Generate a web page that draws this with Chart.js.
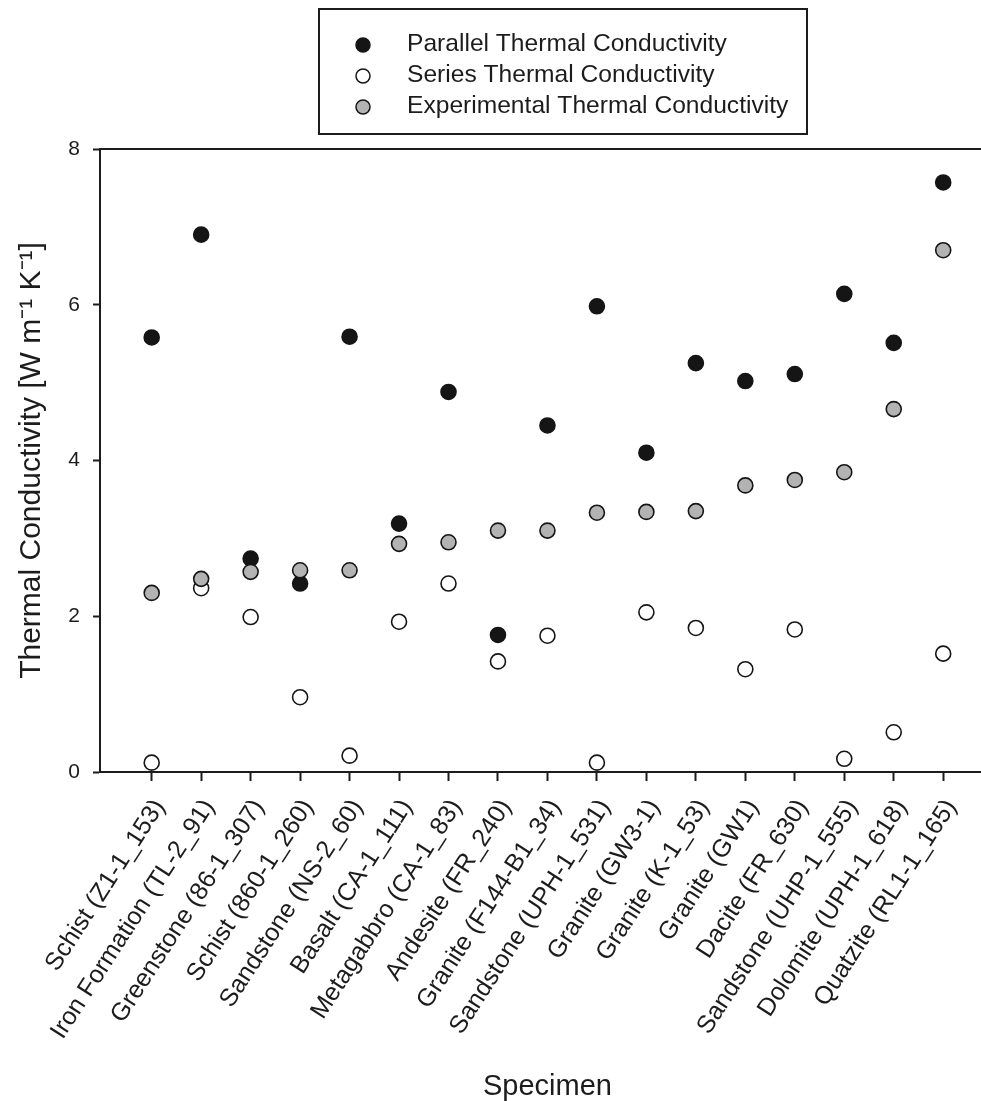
<!DOCTYPE html>
<html>
<head>
<meta charset="utf-8">
<script src="https://cdn.jsdelivr.net/npm/chart.js@4.4.1/dist/chart.umd.min.js"></script>
<style>
  html, body { margin: 0; padding: 0; background: #fff; overflow: hidden; }
  canvas { display: block; }
</style>
</head>
<body>
<canvas id="tcChart" width="1004" height="1101"></canvas>
<script>
const specimens = [
  "Schist (Z1-1_153)", "Iron Formation (TL-2_91)", "Greenstone (86-1_307)",
  "Schist (860-1_260)", "Sandstone (NS-2_60)", "Basalt (CA-1_111)",
  "Metagabbro (CA-1_83)", "Andesite (FR_240)", "Granite (F144-B1_34)",
  "Sandstone (UPH-1_531)", "Granite (GW3-1)", "Granite (K-1_53)",
  "Granite (GW1)", "Dacite (FR_630)", "Sandstone (UHP-1_555)",
  "Dolomite (UPH-1_618)", "Quatzite (RL1-1_165)"
];
const parallelTC = [5.58, 6.90, 2.74, 2.42, 5.59, 3.19, 4.88, 1.76, 4.45, 5.98, 4.10, 5.25, 5.02, 5.11, 6.14, 5.51, 7.57];
const seriesTC = [0.12, 2.36, 1.99, 0.96, 0.21, 1.93, 2.42, 1.42, 1.75, 0.12, 2.05, 1.85, 1.32, 1.83, 0.17, 0.51, 1.52];
const experimentalTC = [2.30, 2.48, 2.57, 2.59, 2.59, 2.93, 2.95, 3.10, 3.10, 3.33, 3.34, 3.35, 3.68, 3.75, 3.85, 4.66, 6.70];
const yTicks = [0, 2, 4, 6, 8];

const FONT = '"Liberation Sans", Arial, Helvetica, sans-serif';
const INK = "#1c1c1c";

function pts(values) {
  return values.map((v, i) => ({ x: i, y: v }));
}

// legend box + top frame line
const boxLegend = {
  id: "boxLegend",
  afterDraw(chart) {
    const ctx = chart.ctx;
    const area = chart.chartArea;
    ctx.save();
    ctx.strokeStyle = INK;
    ctx.lineWidth = 2;
    ctx.beginPath();
    ctx.moveTo(area.left, area.top);
    ctx.lineTo(area.right, area.top);
    ctx.stroke();

    ctx.strokeRect(319, 9, 488, 125);
    ctx.font = "24.6px " + FONT;
    ctx.textBaseline = "middle";
    ctx.textAlign = "left";
    chart.data.datasets.forEach((ds, row) => {
      const y = 44 + row * 31;
      ctx.beginPath();
      ctx.arc(363, y + 1, 7, 0, Math.PI * 2);
      ctx.fillStyle = ds.backgroundColor;
      ctx.fill();
      ctx.lineWidth = 1.5;
      ctx.strokeStyle = ds.borderColor;
      ctx.stroke();
      ctx.fillStyle = INK;
      ctx.fillText(ds.label, 407, y);
    });
    ctx.restore();
  }
};

const ctx = document.getElementById("tcChart");
new Chart(ctx, {
  type: "scatter",
  data: {
    datasets: [
      {
        label: "Parallel Thermal Conductivity",
        data: pts(parallelTC),
        backgroundColor: "#151515",
        borderColor: "#151515",
        order: 3
      },
      {
        label: "Series Thermal Conductivity",
        data: pts(seriesTC),
        backgroundColor: "#ffffff",
        borderColor: "#151515",
        order: 2
      },
      {
        label: "Experimental Thermal Conductivity",
        data: pts(experimentalTC),
        backgroundColor: "#b3b3b3",
        borderColor: "#151515",
        order: 1
      }
    ]
  },
  options: {
    responsive: false,
    animation: false,
    devicePixelRatio: 1,
    layout: { padding: { top: 149, right: 0, bottom: 0, left: 0 } },
    elements: {
      point: { radius: 7.5, hoverRadius: 7.5, borderWidth: 1.6 }
    },
    plugins: {
      legend: { display: false },
      tooltip: { enabled: false }
    },
    scales: {
      x: {
        type: "linear",
        min: -1.045,
        max: 17.045,
        afterBuildTicks: (scale) => {
          scale.ticks = specimens.map((s, i) => ({ value: i }));
        },
        afterFit: (scale) => {
          scale.height = 329;
        },
        grid: {
          drawOnChartArea: false,
          drawTicks: true,
          tickLength: 9,
          tickWidth: 2,
          tickColor: INK
        },
        border: { color: INK, width: 2 },
        ticks: {
          autoSkip: false,
          minRotation: 57,
          maxRotation: 57,
          padding: 13,
          labelOffset: 8,
          color: INK,
          font: { family: FONT, size: 25 },
          callback: (v) => specimens[v] ?? ""
        },
        title: {
          display: true,
          text: "Specimen",
          color: INK,
          font: { family: FONT, size: 29 },
          padding: { top: 0, bottom: -3 }
        }
      },
      y: {
        min: 0,
        max: 8,
        afterBuildTicks: (scale) => {
          scale.ticks = yTicks.map((v) => ({ value: v }));
        },
        afterFit: (scale) => {
          scale.width = 100;
        },
        grid: {
          drawOnChartArea: false,
          drawTicks: true,
          tickLength: 7,
          tickWidth: 2,
          tickColor: INK
        },
        border: { color: INK, width: 2 },
        ticks: {
          padding: 13,
          color: INK,
          font: { family: FONT, size: 21 }
        },
        title: {
          display: true,
          text: "Thermal Conductivity [W m\u207B\u00B9 K\u207B\u00B9]",
          color: INK,
          font: { family: FONT, size: 30 },
          padding: { top: 14, bottom: 0 }
        }
      }
    }
  },
  plugins: [boxLegend]
});
</script>
</body>
</html>
